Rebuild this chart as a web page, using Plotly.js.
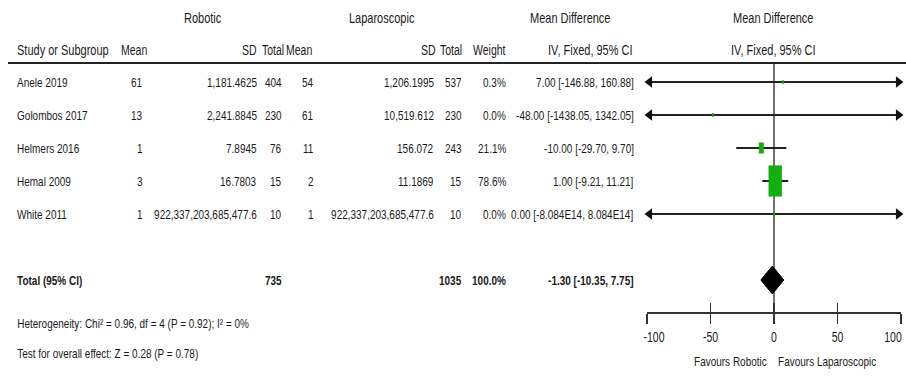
<!DOCTYPE html>
<html>
<head>
<meta charset="utf-8">
<script src="https://cdn.plot.ly/plotly-3.0.1.min.js"></script>
<style>
  html, body { margin: 0; padding: 0; background: #ffffff; }
  #forest { width: 906px; height: 379px; }
</style>
</head>
<body>
<div id="forest"></div>
<script>
// ---- Study data: robotic vs laparoscopic, mean difference (IV, fixed) ----
const studies   = ["Anele 2019", "Golombos 2017", "Helmers 2016", "Hemal 2009", "White 2011"];
const robMean   = [61, 13, 1, 3, 1];
const robSD     = ["1,181.4625", "2,241.8845", "7.8945", "16.7803", "922,337,203,685,477.6"];
const robTotal  = [404, 230, 76, 15, 10];
const lapMean   = [54, 61, 11, 2, 1];
const lapSD     = ["1,206.1995", "10,519.612", "156.072", "11.1869", "922,337,203,685,477.6"];
const lapTotal  = [537, 230, 243, 15, 10];
const weight    = [0.3, 0.0, 21.1, 78.6, 0.0];
const md        = [7.00, -48.00, -10.00, 1.00, 0.00];
const ciLow     = [-146.88, -1438.05, -29.70, -9.21, -8.084e14];
const ciHigh    = [160.88, 1342.05, 9.70, 11.21, 8.084e14];

// ---- Pooled estimate ----
const pooledMD     = [-1.30];
const pooledLow    = [-10.35];
const pooledHigh   = [7.75];
const pooledWeight = [100.0];

const axisTicks = [-100, -50, 0, 50, 100];
const heterogeneityText = "Heterogeneity: Chi² = 0.96, df = 4 (P = 0.92); I² = 0%";
const overallText = "Test for overall effect: Z = 0.28 (P = 0.78)";

// ---- Layout helpers (page is 906 x 379 px) ----
const W = 906, H = 379;
const FONT = "'Liberation Sans', Arial, sans-serif";
const TXT = "#1a1a1a";
const px = x => x / W;
const py = y => 1 - y / H;

const X_MIN = -100, X_MAX = 100, X_PAD = 0.6;
const plotLeft = 647, plotRight = 901;     // -100 .. 100 on the forest axis
const pxPerUnitX = (plotRight - plotLeft) / (X_MAX - X_MIN);
const headerLineY = 63, axisY = 313;
const rowTop = -0.576, rowBottom = 7;      // row units: studies 0..4, total row 6
const totalRow = 6;
const pxPerRow = (axisY - headerLineY) / (rowBottom - rowTop);

function fmtNum(v) {
  if (Math.abs(v) >= 1e6) {
    const e = Math.floor(Math.log10(Math.abs(v)));
    return (v / Math.pow(10, e)).toFixed(3) + "E" + e;
  }
  return v.toFixed(2);
}
function ciLabel(m, lo, hi) {
  return fmtNum(m) + " [" + fmtNum(lo) + ", " + fmtNum(hi) + "]";
}

const annotations = [];
function addText(text, x, y, anchor, opts) {
  opts = opts || {};
  annotations.push({
    text: opts.bold ? "<b>" + text + "</b>" : text,
    x: px(x), xref: "paper", xanchor: anchor,
    y: opts.row !== undefined ? opts.row : py(y),
    yref: opts.row !== undefined ? "y" : "paper",
    yanchor: "middle",
    showarrow: false,
    borderpad: 0,
    font: { family: FONT, size: opts.size || 10, color: TXT }
  });
}

// Group headings
addText("Robotic", 203, 18, "center", { size: 11 });
addText("Laparoscopic", 382, 18, "center", { size: 11 });
addText("Mean Difference", 570, 18, "center", { size: 11 });
addText("Mean Difference", 773, 18, "center", { size: 11 });

// Column headings
const headY = 50, hs = 10.5;
addText("Study or Subgroup", 16, headY, "left", { size: 11 });
addText("Mean", 148, headY, "right", { size: hs });
addText("SD", 258, headY, "right", { size: hs });
addText("Total", 285, headY, "right", { size: hs });
addText("Mean", 313, headY, "right", { size: hs });
addText("SD", 437, headY, "right", { size: hs });
addText("Total", 463, headY, "right", { size: hs });
addText("Weight", 507, headY, "right", { size: hs });
addText("IV, Fixed, 95% CI", 634, headY, "right", { size: 11 });
addText("IV, Fixed, 95% CI", 773, headY, "center", { size: 11 });

// Study rows
studies.forEach((s, i) => {
  addText(s, 16, 0, "left", { row: i });
  addText(String(robMean[i]), 144, 0, "right", { row: i });
  addText(robSD[i], 258, 0, "right", { row: i });
  addText(String(robTotal[i]), 283, 0, "right", { row: i });
  addText(String(lapMean[i]), 315, 0, "right", { row: i });
  addText(lapSD[i], 435, 0, "right", { row: i });
  addText(String(lapTotal[i]), 463, 0, "right", { row: i });
  addText(weight[i].toFixed(1) + "%", 507, 0, "right", { row: i });
  addText(ciLabel(md[i], ciLow[i], ciHigh[i]), 635, 0, "right", { row: i });
});

// Total row
const sumRob = robTotal.reduce((a, b) => a + b, 0);
const sumLap = lapTotal.reduce((a, b) => a + b, 0);
addText("Total (95% CI)", 16, 0, "left", { row: totalRow, bold: true });
addText(String(sumRob), 283, 0, "right", { row: totalRow, bold: true });
addText(String(sumLap), 463, 0, "right", { row: totalRow, bold: true });
addText(pooledWeight[0].toFixed(1) + "%", 507, 0, "right", { row: totalRow, bold: true });
addText(ciLabel(pooledMD[0], pooledLow[0], pooledHigh[0]), 635, 0, "right", { row: totalRow, bold: true });

// Footer
addText(heterogeneityText, 16, 323, "left");
addText(overallText, 16, 353, "left");
addText("Favours Robotic", 768, 361, "right");
addText("Favours Laparoscopic", 777, 361, "left");

// ---- Traces ----
const traces = [];
const shapes = [];

studies.forEach((s, i) => {
  const lo = Math.max(ciLow[i], X_MIN);
  const hi = Math.min(ciHigh[i], X_MAX);
  traces.push({
    type: "scatter", mode: "lines", x: [lo, hi], y: [i, i],
    line: { color: "#222222", width: 2 }, hoverinfo: "skip", cliponaxis: false
  });
  if (ciLow[i] < X_MIN) {
    traces.push({
      type: "scatter", mode: "markers", x: [X_MIN + 2], y: [i],
      marker: { symbol: "triangle-left", size: 10, color: "#111111" },
      hoverinfo: "skip", cliponaxis: false
    });
  }
  if (ciHigh[i] > X_MAX) {
    traces.push({
      type: "scatter", mode: "markers", x: [X_MAX - 2], y: [i],
      marker: { symbol: "triangle-right", size: 10, color: "#111111" },
      hoverinfo: "skip", cliponaxis: false
    });
  }
  // Weight box: size grows with study weight
  const hPx = 3 + 0.35 * weight[i];
  const wPx = Math.max(1.6, hPx * 0.42);
  const hw = (wPx / 2) / pxPerUnitX;
  const hh = (hPx / 2) / pxPerRow;
  shapes.push({
    type: "rect", xref: "x", yref: "y",
    x0: md[i] - hw, x1: md[i] + hw, y0: i - hh, y1: i + hh,
    fillcolor: "#10b010", line: { color: "#0a9a0a", width: 0.5 }, layer: "above"
  });
});

// Pooled diamond
const dh = 14 / pxPerRow;
traces.push({
  type: "scatter", mode: "lines",
  x: [pooledLow[0], pooledMD[0], pooledHigh[0], pooledMD[0], pooledLow[0]],
  y: [totalRow, totalRow - dh, totalRow, totalRow + dh, totalRow],
  fill: "toself", fillcolor: "#000000",
  line: { color: "#000000", width: 1 }, hoverinfo: "skip"
});

// Second x-axis carries the upward half of the tick marks
traces.push({
  type: "scatter", mode: "markers", x: [0], y: [totalRow], xaxis: "x2", yaxis: "y",
  marker: { opacity: 0 }, hoverinfo: "skip"
});

// Line of no effect and header rule
shapes.push({
  type: "line", xref: "x", yref: "paper", x0: 0, x1: 0,
  y0: py(323), y1: py(headerLineY), line: { color: "#444444", width: 1.5 }, layer: "below"
});
shapes.push({
  type: "line", xref: "paper", yref: "paper", x0: px(8), x1: 1,
  y0: py(headerLineY), y1: py(headerLineY), line: { color: "#222222", width: 2 }
});
// Axis line spans exactly the -100..100 scale
shapes.push({
  type: "line", xref: "x", yref: "paper", x0: X_MIN, x1: X_MAX,
  y0: py(axisY), y1: py(axisY), line: { color: "#333333", width: 2 }
});

const padPx = X_PAD * pxPerUnitX;
const layout = {
  width: W, height: H,
  margin: { l: 0, r: 0, t: 0, b: 0 },
  paper_bgcolor: "#ffffff", plot_bgcolor: "rgba(0,0,0,0)",
  showlegend: false,
  font: { family: FONT, color: TXT, size: 10 },
  xaxis: {
    domain: [px(plotLeft - padPx), px(plotRight + padPx)],
    range: [X_MIN - X_PAD, X_MAX + X_PAD],
    tickvals: axisTicks, ticktext: axisTicks.map(String),
    ticks: "outside", ticklen: 10, tickwidth: 1.5, tickcolor: "#333333",
    ticklabeloverflow: "allow", ticklabelstandoff: 4,
    showline: false, showgrid: false, zeroline: false, fixedrange: true,
    tickfont: { family: FONT, size: 10.5, color: TXT }, anchor: "y"
  },
  xaxis2: {
    overlaying: "x", matches: "x", anchor: "y", side: "bottom",
    tickvals: axisTicks, ticks: "inside", ticklen: 10, tickwidth: 1.5, tickcolor: "#333333",
    ticklabeloverflow: "allow",
    showticklabels: false, showline: false, showgrid: false, zeroline: false, fixedrange: true
  },
  yaxis: {
    domain: [py(axisY), py(headerLineY)], range: [rowBottom, rowTop],
    visible: false, fixedrange: true
  },
  shapes: shapes,
  annotations: annotations
};

Plotly.newPlot("forest", traces, layout, { staticPlot: true, displayModeBar: false })
  .then(gd => {
    // Condensed-looking lettering: stretch glyphs vertically about their centre
    const ticks = Array.from(gd.querySelectorAll(".xtick text"));
    gd.querySelectorAll(".annotation-text, .xtick text").forEach(t => {
      const b = t.getBBox();
      const cy = b.y + b.height / 2;
      let prev = t.getAttribute("transform") || "";
      // end labels of the scale sit just inside the outer ticks
      if (ticks.length && t === ticks[0]) prev += " translate(7,0)";
      if (ticks.length && t === ticks[ticks.length - 1]) prev += " translate(-8,0)";
      t.setAttribute("transform",
        prev + " translate(0," + cy + ") scale(1,1.32) translate(0," + (-cy) + ")");
    });
  });
</script>
</body>
</html>
